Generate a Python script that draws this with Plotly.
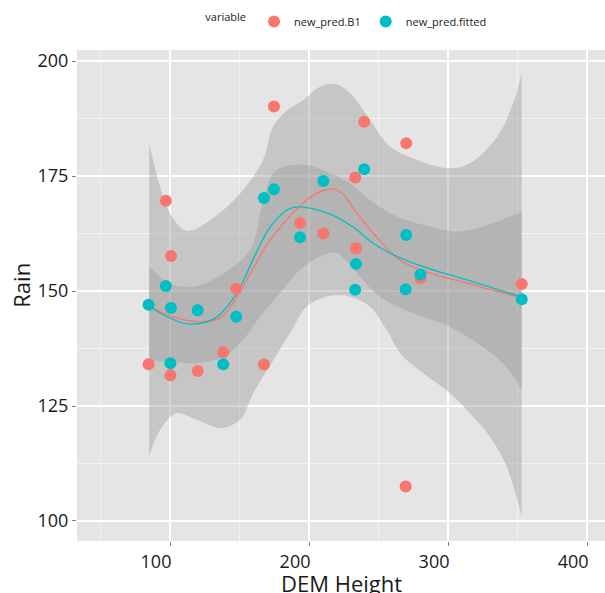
import plotly.graph_objects as go

# ---- data ----
dem = [84.6, 97.0, 100.7, 100.3, 119.9, 138.3, 147.6, 167.6, 174.8, 193.6,
       210.3, 233.2, 233.8, 239.7, 269.9, 269.5, 280.2, 353.0]
pred_b1 = [134.1, 169.6, 157.6, 131.7, 132.6, 136.7, 150.5, 134.0, 190.1, 164.8,
           162.5, 174.7, 159.3, 186.8, 182.1, 107.5, 152.8, 151.5]
pred_fitted = [147.0, 151.1, 146.3, 134.3, 145.8, 134.1, 144.4, 170.2, 172.1, 161.7,
               173.9, 150.3, 155.9, 176.5, 162.2, 150.4, 153.6, 148.2]

# smoothed curves (loess)
b1_line_x = [84.9, 100, 121.6, 136, 148.2, 161.2, 172, 195.7, 208, 216, 224, 231.7, 246, 265.5, 284.9, 313.7, 353]
b1_line_y = [146.7, 144.6, 143.3, 144.1, 148.7, 155.7, 161.1, 169.1, 171.6, 172.2, 171.2, 168.0, 162.6, 156.7, 154.1, 151.7, 148.5]
fit_line_x = [84.9, 100, 114.4, 132.4, 148.2, 161.2, 172, 184.2, 191.4, 213, 231.7, 246, 265.5, 289.2, 313.7, 353]
fit_line_y = [146.7, 144.1, 142.8, 144.1, 149.6, 157.8, 163.9, 167.6, 168.3, 167, 163.9, 160.4, 157.2, 154.6, 152.4, 148.7]

# confidence bands
b1_up_x = [85, 100, 112, 126.6, 150.4, 166.9, 174.1, 184.2, 195.7, 207.9, 219, 229.5, 243.9, 258.3, 277.7, 301.4, 315.8, 335.3, 346.8, 353]
b1_up_y = [182.1, 166.9, 163.1, 164.9, 171.2, 178.5, 185.7, 189.3, 191.5, 194.4, 195.0, 193.0, 187.2, 181.4, 178.5, 176.7, 177.8, 183.5, 190.8, 197.4]
b1_lo_x = [85, 92.8, 104.8, 119.2, 136, 150.4, 159.9, 174.3, 186.3, 198.3, 212.7, 222.3, 229.5, 243.9, 255.9, 265.5, 282.2, 301.4, 315.8, 330.2, 342.2, 353]
b1_lo_y = [114, 119.8, 123.4, 122, 120.2, 122, 127.8, 135, 140.8, 146.6, 148.8, 149.1, 148.8, 146.6, 141.5, 136.5, 132.1, 127.8, 123.4, 118.3, 111.8, 100.9]
fit_up_x = [85, 102.4, 119.2, 138.3, 157.6, 167.1, 174.3, 184, 198.3, 215.1, 229.5, 243.9, 263.1, 287, 306.3, 325.4, 344.6, 353]
fit_up_y = [155.3, 151.3, 151.1, 153.8, 158.9, 169.8, 175.6, 177.2, 177.4, 175.6, 173.4, 169.8, 166.2, 164, 162.9, 164, 166.2, 167.2]
fit_lo_x = [85, 100, 119.2, 138.3, 150.4, 164.7, 179.1, 193.5, 207.9, 220, 229.5, 251.1, 274.8, 301.4, 320.9, 339.6, 353]
fit_lo_y = [135, 134.6, 134.3, 135.7, 138.6, 144.4, 149.5, 154.6, 157.5, 158.3, 155.6, 148.7, 145.2, 142.2, 138.7, 134.3, 128.5]

x_ticks = [100, 200, 300, 400]
y_ticks = [100, 125, 150, 175, 200]
x_title = "DEM Height"
y_title = "Rain"

RED = "#F8766D"
TEAL = "#00BFC4"
BAND = "rgba(153,153,153,0.4)"
FONT = "Open Sans"

fig = go.Figure()

for lo_x, lo_y, up_x, up_y in [(b1_lo_x, b1_lo_y, b1_up_x, b1_up_y),
                               (fit_lo_x, fit_lo_y, fit_up_x, fit_up_y)]:
    fig.add_trace(go.Scatter(x=lo_x, y=lo_y, mode="lines", line=dict(width=0, shape="spline"),
                             showlegend=False, hoverinfo="skip"))
    fig.add_trace(go.Scatter(x=up_x, y=up_y, mode="lines", line=dict(width=0, shape="spline"),
                             fill="tonexty", fillcolor=BAND, showlegend=False, hoverinfo="skip"))

fig.add_trace(go.Scatter(x=b1_line_x, y=b1_line_y, mode="lines",
                         line=dict(color=RED, width=1.3, shape="spline", smoothing=1.0), showlegend=False))
fig.add_trace(go.Scatter(x=fit_line_x, y=fit_line_y, mode="lines",
                         line=dict(color=TEAL, width=1.3, shape="spline", smoothing=1.0), showlegend=False))

fig.add_trace(go.Scatter(x=dem, y=pred_b1, mode="markers", name="new_pred.B1",
                         marker=dict(color=RED, size=12)))
fig.add_trace(go.Scatter(x=dem, y=pred_fitted, mode="markers", name="new_pred.fitted",
                         marker=dict(color=TEAL, size=12)))

fig.update_layout(
    width=605, height=593,
    margin=dict(l=77, r=0, t=50, b=52, autoexpand=False),
    paper_bgcolor="white", plot_bgcolor="#E5E5E5",
    font=dict(family=FONT, color="#1a1a1a"),
    legend=dict(orientation="h", x=0.512, xanchor="center", y=1.058, yanchor="middle",
                traceorder="normal", itemwidth=30,
                title=dict(text="variable", font=dict(size=11), side="left"), font=dict(size=11),
                bgcolor="rgba(0,0,0,0)"),
    xaxis=dict(range=[33.1, 412.9], tickvals=x_ticks, ticks="outside", ticklen=4,
               tickcolor="#7F7F7F", tickwidth=1, showgrid=True, gridcolor="white", gridwidth=1.5,
               zeroline=False, showline=False, tickfont=dict(size=18), ticklabelshift=-14,
               automargin=False,
               minor=dict(dtick=50, tick0=0, showgrid=True, gridcolor="#F2F2F2", gridwidth=0.8)),
    yaxis=dict(range=[95.65, 202.4], tickvals=y_ticks, ticks="outside", ticklen=4,
               tickcolor="#7F7F7F", tickwidth=1, showgrid=True, gridcolor="white", gridwidth=1.5,
               zeroline=False, showline=False, tickfont=dict(size=18), automargin=False,
               minor=dict(dtick=12.5, tick0=0, showgrid=True, gridcolor="#F2F2F2", gridwidth=0.8)),
    annotations=[
        dict(text=x_title, xref="paper", yref="paper", x=0.5, y=-0.051, xanchor="center",
             yanchor="top", showarrow=False, font=dict(size=22)),
        dict(text=y_title, xref="paper", yref="paper", x=-0.106, y=0.52, xanchor="center",
             yanchor="middle", textangle=-90, showarrow=False, font=dict(size=22)),
    ],
)

fig.write_html("out.html", config={"displayModeBar": False},
               post_script="document.body.style.margin='0';document.body.style.overflow='hidden';")
